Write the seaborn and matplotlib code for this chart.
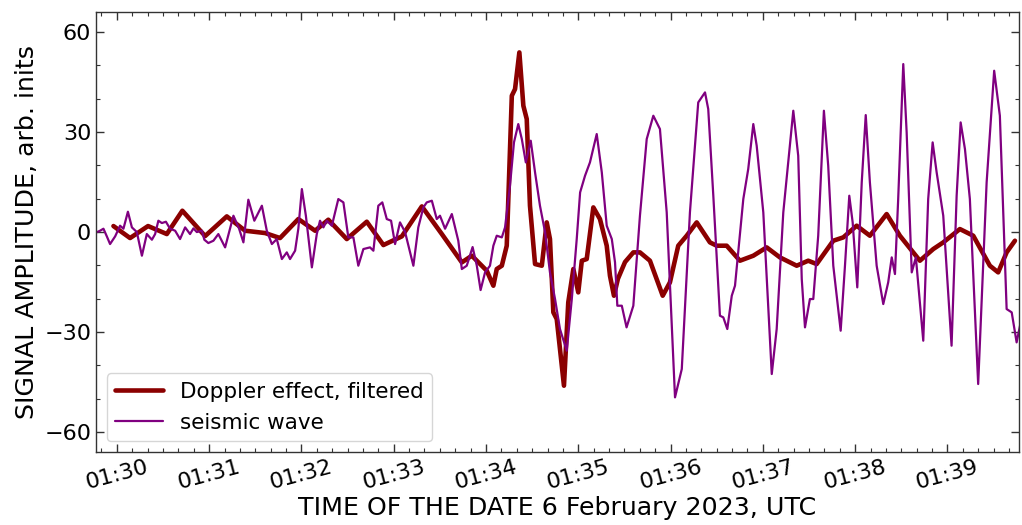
import matplotlib
matplotlib.use("Agg")
import matplotlib.pyplot as plt
import matplotlib.dates as mdates
from matplotlib.ticker import MultipleLocator
import numpy as np
import pandas as pd
import seaborn as sns

# Seconds after 01:29:00 UTC, 6 February 2023
doppler_sec = [57.8, 68.6, 80.3, 92.5, 102.6, 117.4, 131.5, 143.4, 156.4, 166.1,
               178.0, 188.9, 197.5, 209.5, 222.5, 233.3, 245.3, 258.3, 271.3, 284.3,
               290.8, 300.5, 304.8, 307.0, 310.3, 313.5, 316.8, 318.9, 321.7, 324.3,
               326.5, 328.6, 331.9, 336.3, 339.5, 341.6, 343.8, 346.0, 350.7, 353.5,
               356.8, 360.0, 362.3, 365.5, 369.8, 374.1, 378.5, 380.6, 383.2, 385.8,
               390.4, 395.8, 400.1, 406.6, 414.9, 419.6, 425.0, 430.5, 437.0, 445.6,
               450.0, 456.5, 465.1, 473.8, 482.5, 491.1, 502.0, 509.5, 515.0, 525.8,
               532.3, 541.0, 549.6, 560.5, 569.1, 582.1, 590.8, 597.3, 608.1, 616.8,
               627.6, 633.0, 638.5, 643.9]
doppler_val = [1.8, -1.8, 1.8, -0.6, 6.4, -1.2, 4.7, 0.4, -0.3, -1.8,
               3.9, 0.4, 3.7, -2.1, 3.1, -3.9, -1.3, 7.7, -0.6, -9.1,
               -7.1, -11.6, -16.1, -11.1, -10.1, -4.1, 40.9, 42.9, 53.9, 37.9,
               33.9, 7.9, -9.6, -10.1, 2.9, -2.1, -24.1, -26.1, -46.1, -21.1,
               -11.1, -18.1, -8.6, -8.1, 7.4, 3.9, -4.1, -13.1, -19.1, -14.0,
               -9.0, -6.1, -6.1, -8.6, -19.1, -15.1, -4.1, -1.1, 2.9, -3.1,
               -4.1, -4.1, -8.6, -7.1, -4.6, -7.6, -10.1, -8.6, -9.6, -2.6,
               -1.6, 1.9, -1.1, 5.4, -1.1, -8.6, -5.1, -3.1, 0.9, -1.1,
               -10.1, -12.1, -6.1, -2.6]

seismic_sec = [47.2, 49.1, 51.3, 53.5, 55.6, 58.9, 62.1, 64.3, 67.2, 69.8,
               73.0, 76.3, 79.5, 82.8, 84.9, 87.0, 89.3, 91.9, 94.6, 97.9,
               101.1, 104.4, 107.6, 109.8, 112.0, 115.3, 116.9, 119.5, 122.8, 126.0,
               130.4, 135.8, 139.5, 142.3, 145.5, 149.4, 154.3, 157.5, 160.8, 164.0,
               167.3, 170.5, 172.6, 175.9, 178.0, 180.3, 182.9, 186.8, 190.0, 192.1,
               194.3, 196.5, 199.8, 204.0, 207.3, 210.5, 213.8, 217.0, 220.3, 224.6,
               226.8, 230.0, 232.6, 235.5, 238.3, 240.9, 244.1, 247.4, 252.8, 256.0,
               259.3, 261.5, 264.8, 268.0, 270.1, 273.4, 277.8, 282.0, 284.3, 287.5,
               291.3, 294.0, 296.5, 299.4, 302.6, 304.8, 307.0, 310.3, 312.4, 315.6,
               318.2, 321.0, 323.3, 325.9, 329.1, 331.9, 335.1, 338.4, 341.6, 344.9,
               348.1, 352.5, 355.8, 359.0, 361.2, 364.4, 367.6, 372.0, 375.3, 378.5,
               381.8, 383.9, 385.4, 388.3, 391.4, 395.8, 398.2, 400.1, 404.5, 408.8,
               413.1, 417.5, 422.9, 427.3, 432.6, 438.0, 442.4, 444.5, 447.8, 452.1,
               454.3, 456.9, 459.8, 461.9, 467.3, 470.5, 473.8, 476.0, 480.3, 485.8,
               489.0, 493.3, 499.8, 503.0, 505.3, 507.4, 510.6, 512.8, 516.0, 519.7,
               522.5, 525.8, 530.6, 533.4, 536.2, 538.4, 541.4, 544.3, 546.9, 549.6,
               554.0, 558.3, 561.5, 563.8, 565.9, 568.0, 571.3, 573.5, 576.8, 579.5,
               584.3, 587.5, 590.4, 593.0, 597.3, 602.7, 606.0, 608.6, 611.4, 614.6,
               620.0, 625.5, 630.4, 634.1, 638.5, 641.8, 645.0, 647.2]
seismic_val = [0.0, 0.4, 1.0, -1.3, -3.6, -1.3, 1.9, 1.0, 6.1, 1.4,
               0.0, -7.1, -0.6, -2.3, -0.6, 3.4, 2.7, 3.1, 1.0, 0.4,
               -2.1, 1.4, -0.6, 1.1, 0.0, 0.4, -2.3, -3.3, -2.6, -0.6,
               -4.6, 4.9, 1.0, -3.1, 9.7, 3.4, 7.9, 0.4, -3.6, -2.1,
               -8.1, -6.1, -8.1, -5.6, 1.0, 12.9, 4.9, -10.6, -0.6, 3.4,
               1.4, 3.4, 1.9, 9.9, 8.9, -1.6, -1.6, -10.1, -5.1, -4.6,
               -5.6, 7.9, 8.9, 3.9, 3.4, -3.6, 2.9, 0.0, -10.1, 1.4,
               7.4, 8.9, 9.4, 3.9, 4.9, 1.0, 5.4, -2.6, -11.1, -10.1,
               -4.5, -10.0, -17.4, -12.1, -10.1, -4.1, -1.1, -1.6, 1.4, 13.9,
               26.9, 32.4, 27.9, 20.9, 27.4, 17.9, 7.9, 0.0, -12.1, -20.1,
               -29.1, -35.6, -20.1, -2.1, 11.9, 16.9, 20.9, 29.4, 17.9, 1.9,
               -2.1, -9.1, -22.1, -22.1, -28.6, -22.1, -7.0, 4.9, 27.9, 34.9,
               30.9, 5.9, -49.6, -41.1, 5.9, 38.9, 41.9, 36.9, 10.9, -25.1,
               -25.6, -29.1, -19.1, -16.1, 9.9, 18.9, 32.4, 25.9, 5.9, -42.6,
               -29.1, 5.9, 36.4, 22.9, -14.1, -28.6, -20.1, -20.1, -1.1, 36.4,
               19.9, -10.1, -29.6, -10.1, 10.9, 2.9, -16.6, 14.9, 35.1, 14.9,
               -10.1, -21.6, -15.1, -7.6, -12.6, 9.9, 50.4, 29.9, -12.1, -7.6,
               -32.6, 9.9, 26.9, 17.9, 4.9, -34.1, 10.9, 32.9, 24.9, 9.9,
               -45.6, 14.9, 48.4, 34.9, -23.1, -24.1, -33.1, -28.1]

x_start_sec = 46.5
x_end_sec = 646.5
y_ticks = [-60, -30, 0, 30, 60]

base = pd.Timestamp("2023-02-06 01:29:00")
doppler = pd.DataFrame({"time": base + pd.to_timedelta(doppler_sec, unit="s"),
                        "value": doppler_val})
seismic = pd.DataFrame({"time": base + pd.to_timedelta(seismic_sec, unit="s"),
                        "value": seismic_val})

sns.set_style("ticks")
plt.rcParams.update({
    "font.family": ["DejaVu Sans"],
    "text.color": "black",
    "axes.labelcolor": "black",
    "xtick.color": "black",
    "ytick.color": "black",
    "lines.solid_capstyle": "round",
    "lines.solid_joinstyle": "round",
})

fig, ax = plt.subplots(figsize=(10.22, 5.25), dpi=100)
fig.subplots_adjust(left=0.094, right=0.997, top=0.977, bottom=0.139)

sns.lineplot(data=doppler, x="time", y="value", ax=ax, color="#8b0000",
             linewidth=3.3, label="Doppler effect, filtered", sort=False)
sns.lineplot(data=seismic, x="time", y="value", ax=ax, color="#800080",
             linewidth=1.6, label="seismic wave", sort=False)

ax.set_xlim(base + pd.Timedelta(seconds=x_start_sec), base + pd.Timedelta(seconds=x_end_sec))
ax.set_ylim(-66, 66)
ax.set_yticks(y_ticks)
ax.yaxis.set_minor_locator(MultipleLocator(10))
ax.xaxis.set_major_locator(mdates.MinuteLocator())
ax.xaxis.set_minor_locator(mdates.SecondLocator(bysecond=range(0, 60, 10)))
ax.xaxis.set_major_formatter(mdates.DateFormatter("%H:%M"))

ax.tick_params(which="both", direction="in", top=True, right=True, labelsize=16,
               color="#333333", labelcolor="black")
ax.tick_params(which="major", length=6, width=1)
ax.tick_params(which="minor", length=3, width=0.8)
for lbl in ax.get_xticklabels():
    lbl.set_rotation(15)
    lbl.set_ha("center")

for s in ax.spines.values():
    s.set_visible(True)
    s.set_color("#333333")
    s.set_linewidth(1.0)

ax.set_xlabel("TIME OF THE DATE 6 February 2023, UTC", fontsize=18.2, labelpad=2,
              color="black")
ax.set_ylabel("SIGNAL AMPLITUDE, arb. inits", fontsize=18.2, color="black")
leg = ax.legend(loc="lower left", fontsize=15.5, handlelength=2.2)
for t in leg.get_texts():
    t.set_color("black")

fig.savefig("out.png", dpi=100)
